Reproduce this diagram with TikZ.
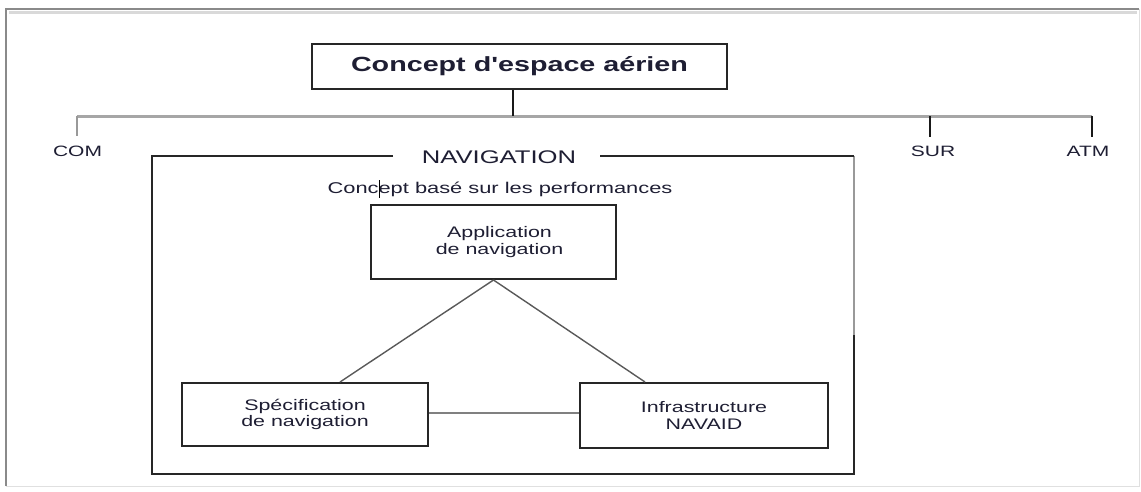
\documentclass[tikz,border=0pt]{standalone}
\usepackage{fontspec}
\setmainfont{Liberation Sans}[FakeStretch=1.4]
\newfontfamily\titlefont{Liberation Sans}[FakeStretch=1.4,Ligatures=ResetAll]
\usetikzlibrary{calc}
\definecolor{ink}{HTML}{1E1E33}
\definecolor{frameg}{HTML}{8A8A8A}
\tikzset{
  boxnode/.style={draw=black!85, line width=2pt, inner sep=0pt, align=center, text=ink,
    font=\fontsize{15.3}{16.5}\selectfont},
  lbl/.style={inner sep=0pt, text=ink, font=\fontsize{15}{18}\selectfont},
  tick/.style={draw=black!90, line width=2pt},
  hbar/.style={draw=black!35, line width=3pt},
  thin/.style={draw=black!65, line width=1.4pt},
  navframe/.style={draw=black!85, line width=2pt},
}
\begin{document}
\begin{tikzpicture}[x=1pt,y=-1pt]
\useasboundingbox (0,0) rectangle (1141,491);
% outer page frame
\draw[draw=black!12, line width=1pt] (1139,9) -- (1139,486) -- (6,486);
\draw[draw=frameg, line width=2.5pt] (6,486) -- (6,9) -- (1139,9);
\draw[draw=black!15, line width=3pt] (9,12) -- (1137,12);
% title
\node[boxnode, minimum width=415pt, minimum height=45pt, font=\titlefont\fontsize{20.5}{22}\bfseries\selectfont]
  (title) at (519.5,66.5) {Concept d'espace aérien};
\coordinate (jt) at (513,116);
\coordinate (jcom) at (77,116);
\coordinate (jsur) at (930,116);
\coordinate (jatm) at (1092,116);
\draw[hbar] (jcom) -- (jatm);
\draw[tick] (title.south -| jt) -- (jt);
\draw[draw=black!40, line width=2.5pt] (jcom) -- ++(0,20) coordinate (ecom);
\draw[tick] (jsur) -- ++(0,21) coordinate (esur);
\draw[tick] (jatm) -- ++(0,21) coordinate (eatm);
\node[lbl] (com) at (77.5,151) {COM};
\node[lbl] (sur) at (933,151) {SUR};
\node[lbl] (atm) at (1088,151) {ATM};
% navigation frame
\node[inner sep=0pt, text=ink, font=\fontsize{18.3}{20}\selectfont] (nav) at (499,157) {NAVIGATION};
\coordinate (fl) at (393,156);
\coordinate (fr) at (600,156);
\draw[navframe] (fl) -- (152,156) -- (152,474) -- (854,474) -- (854,335);
\draw[draw=black!40, line width=2pt] (854,335) -- (854,156);
\draw[navframe] (854,156) -- (fr);
\node[lbl, font=\fontsize{15.6}{18}\selectfont] (perf) at (500,189) {Concept basé sur les performances};
\draw[draw=black, line width=1pt] (379,180) -- (379,198);
% inner boxes
\node[boxnode, minimum width=245pt, minimum height=74pt] (app) at (493.5,242) {\hspace*{12pt}Application\\\hspace*{12pt}de navigation};
\node[boxnode, minimum width=246pt, minimum height=63pt] (spec) at (305,414.5) {Spécification\\de navigation};
\node[boxnode, minimum width=248pt, minimum height=65pt] (infra) at (704,415.5) {Infrastructure\\NAVAID};
\draw[thin] (app.south) -- ([xshift=35pt]spec.north);
\draw[thin] (app.south) -- ([xshift=-59pt]infra.north);
\draw[draw=black!50, line width=1.5pt] (spec.east |- 0,413) -- (infra.west |- 0,413);
\end{tikzpicture}
\end{document}
